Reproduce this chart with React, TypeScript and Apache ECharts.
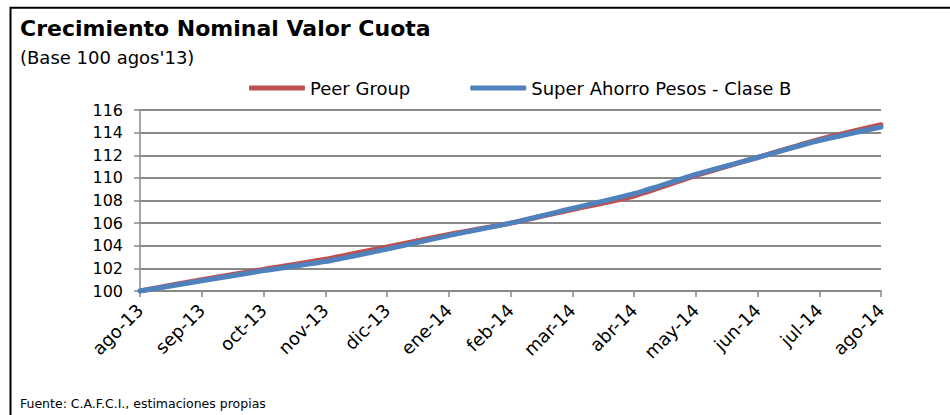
import React, { useEffect, useRef } from "react";
import * as echarts from "echarts";

const categories = ["ago-13", "sep-13", "oct-13", "nov-13", "dic-13", "ene-14", "feb-14", "mar-14", "abr-14", "may-14", "jun-14", "jul-14", "ago-14"];
const peerGroup = [100, 101.0, 101.9, 102.8, 103.9, 105.0, 106.0, 107.2, 108.4, 110.2, 111.8, 113.4, 114.7];
const superAhorro = [100, 100.9, 101.8, 102.6, 103.7, 104.9, 106.0, 107.3, 108.6, 110.3, 111.8, 113.3, 114.5];
const seriesNames = ["Peer Group", "Super Ahorro Pesos - Clase B"];
const titleText = "Crecimiento Nominal Valor Cuota";
const subtitleText = "(Base 100 agos'13)";
const sourceText = "Fuente: C.A.F.C.I., estimaciones propias";

const FONT = "DejaVu Sans";

export default function App() {
  const ref = useRef<HTMLDivElement>(null);
  useEffect(() => {
    if (!ref.current) return;
    const chart = echarts.init(ref.current, undefined, { renderer: "svg" });
    chart.setOption({
      animation: false,
      backgroundColor: "#ffffff",
      textStyle: { fontFamily: FONT },
      graphic: [
        {
          type: "rect",
          shape: { x: 10.5, y: 7.7, width: 1000, height: 600 },
          style: { fill: "none", stroke: "#000", lineWidth: 2 },
          silent: true,
        },
        {
          type: "text",
          x: 20,
          y: 28,
          style: { text: titleText, font: `bold 22px '${FONT}'`, fill: "#000", verticalAlign: "middle" },
        },
        {
          type: "text",
          x: 20,
          y: 57,
          style: { text: subtitleText, font: `18px '${FONT}'`, fill: "#000", verticalAlign: "middle" },
        },
        {
          type: "text",
          x: 20,
          y: 403,
          style: { text: sourceText, font: `12.5px '${FONT}'`, fill: "#000", verticalAlign: "middle" },
        },
      ],
      legend: {
        left: 244,
        top: 74,
        itemWidth: 56,
        itemHeight: 5,
        itemGap: 60,
        icon: "roundRect",
        textStyle: { fontSize: 18, color: "#000", fontFamily: FONT },
        data: seriesNames,
      },
      grid: { left: 140, right: 69, top: 110, bottom: 124, containLabel: false },
      xAxis: {
        type: "category",
        data: categories,
        boundaryGap: false,
        axisLine: { lineStyle: { color: "#898989", width: 1.5 } },
        axisTick: { show: true, length: 6, alignWithLabel: true, lineStyle: { color: "#898989", width: 1.5 } },
        axisLabel: { rotate: 45, fontSize: 18, color: "#000", margin: 16, fontFamily: FONT, interval: 0 },
      },
      yAxis: {
        type: "value",
        min: 100,
        max: 116,
        interval: 2,
        axisLine: { show: true, lineStyle: { color: "#898989", width: 1.5 } },
        axisTick: { show: true, length: 6, lineStyle: { color: "#898989", width: 1.5 } },
        axisLabel: { fontSize: 16, color: "#000", margin: 17, fontFamily: FONT },
        splitLine: { show: true, lineStyle: { color: "#898989", width: 1.8 } },
      },
      series: [
        {
          name: seriesNames[0],
          type: "line",
          data: peerGroup,
          showSymbol: false,
          symbol: "none",
          smooth: 0.2,
          color: "#C0504D",
          lineStyle: { width: 5, color: "#C0504D", cap: "round" },
        },
        {
          name: seriesNames[1],
          type: "line",
          data: superAhorro,
          showSymbol: false,
          symbol: "none",
          smooth: 0.2,
          color: "#4F81BD",
          lineStyle: { width: 5, color: "#4F81BD", cap: "round" },
        },
      ],
    });
    return () => chart.dispose();
  }, []);
  return <div ref={ref} style={{ position: "fixed", left: 0, top: 0, width: 950, height: 415 }} />;
}
